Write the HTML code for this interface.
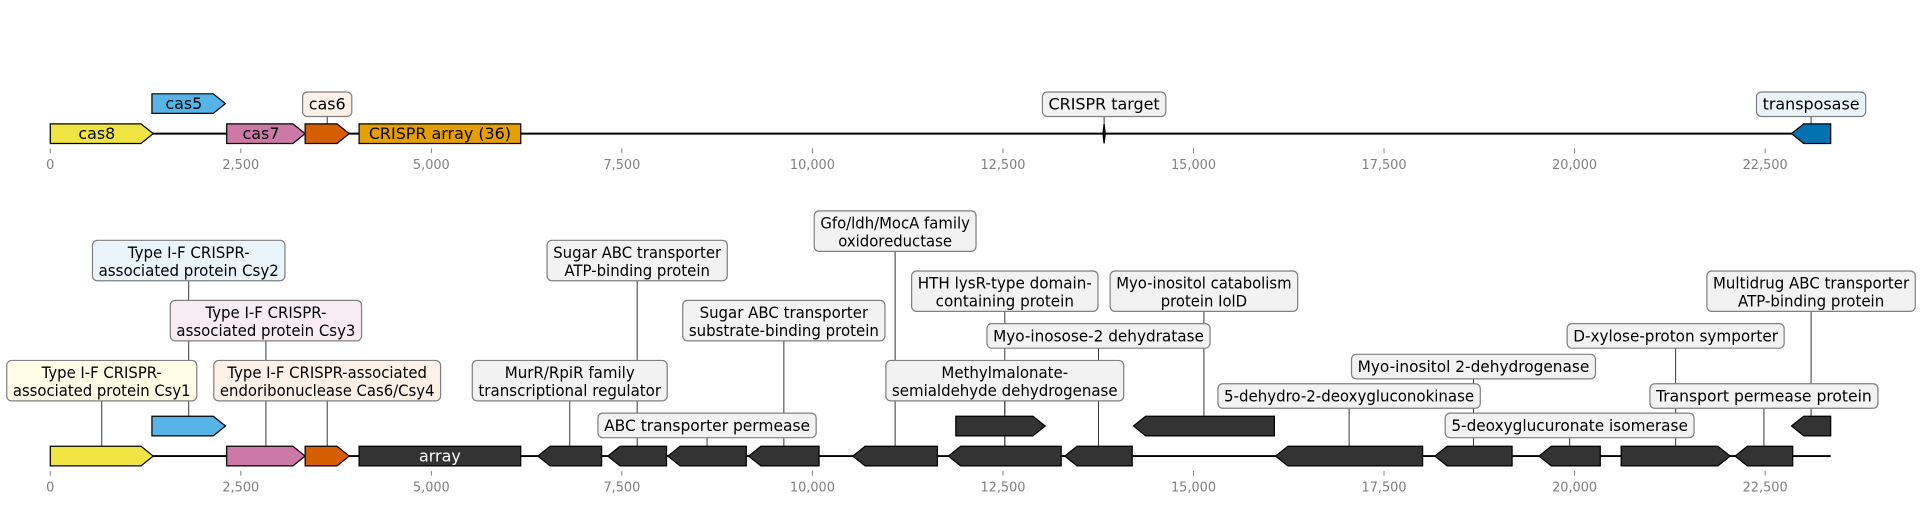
<!DOCTYPE html>
<html><head><meta charset="utf-8"><style>
html,body{margin:0;padding:0;background:#fff}
svg{display:block}
text{font-family:"DejaVu Sans","Liberation Sans",sans-serif}
</style></head><body>
<svg id="chart" xmlns="http://www.w3.org/2000/svg" width="1923" height="505" viewBox="0 0 1568.6 411.9"></svg>
<script>
const NS='http://www.w3.org/2000/svg';
// ---- data ----
const ticks=[0,2500,5000,7500,10000,12500,15000,17500,20000,22500];
const tickLabels=['0','2,500','5,000','7,500','10,000','12,500','15,000','17,500','20,000','22,500'];
const contigEnd=23360;
const topStarts=[0,1334,2315,3344,4052,13812,22846];
const topEnds=[1351,2299,3344,3923,6173,13842,23360];
const topStrands=[1,1,1,1,0,2,-1];
const topRows=[0,1,0,0,0,0,0];
const topColors=['#F0E442','#56B4E9','#CC79A7','#D55E00','#E69F00','#222222','#0072B2'];
const topInside=['cas8','cas5','cas7','','CRISPR array (36)','',''];
const topLabels=[[3,'cas6','#fdf0e6'],[5,'CRISPR target','#f2f2f2'],[6,'transposase','#e8f3fa']];
const botStarts=[0,1334,2315,3344,4052,6398,7315,8103,9163,10530,11784,13311,16077,18167,19533,20611,22106,11881,14212,22846];
const botEnds=[1351,2299,3344,3923,6173,7234,8086,9132,10087,11640,13264,14196,18006,19180,20337,22041,22862,13054,16061,23360];
const botStrands=[1,1,1,1,0,-1,-1,-1,-1,-1,-1,-1,-1,-1,-1,1,-1,1,-1,-1];
const botRows=[0,1,0,0,0,0,0,0,0,0,0,0,0,0,0,0,0,1,1,1];
const botColors=['#F0E442','#56B4E9','#CC79A7','#D55E00'];
const botLabels=[
 [0,294,155,['Type I-F CRISPR-','associated protein Csy1'],'#fffde6'],
 [3,294,185,['Type I-F CRISPR-associated','endoribonuclease Cas6/Csy4'],'#fdf0e6'],
 [2,245,156,['Type I-F CRISPR-','associated protein Csy3'],'#f7ecf2'],
 [1,196,157,['Type I-F CRISPR-','associated protein Csy2'],'#eaf4fb'],
 [5,294,159,['MurR/RpiR family','transcriptional regulator'],'#f2f2f2'],
 [6,196,147,['Sugar ABC transporter','ATP-binding protein'],'#f2f2f2'],
 [8,245,165,['Sugar ABC transporter','substrate-binding protein'],'#f2f2f2'],
 [7,337,178,['ABC transporter permease'],'#f2f2f2'],
 [9,172,132,['Gfo/ldh/MocA family','oxidoreductase'],'#f2f2f2'],
 [10,221,152,['HTH lysR-type domain-','containing protein'],'#f2f2f2'],
 [10,294,194,['Methylmalonate-','semialdehyde dehydrogenase'],'#f2f2f2'],
 [11,264,182,['Myo-inosose-2 dehydratase'],'#f2f2f2'],
 [18,221,153,['Myo-inositol catabolism','protein IolD'],'#f2f2f2'],
 [12,313,214,['5-dehydro-2-deoxygluconokinase'],'#f2f2f2'],
 [13,289,199,['Myo-inositol 2-dehydrogenase'],'#f2f2f2'],
 [15,264,177,['D-xylose-proton symporter'],'#f2f2f2'],
 [14,337,203,['5-deoxyglucuronate isomerase'],'#f2f2f2'],
 [16,313,186,['Transport permease protein'],'#f2f2f2'],
 [19,221,170,['Multidrug ABC transporter','ATP-binding protein'],'#f2f2f2']
];
// ---- scales ----
const X0=41, PXBP=0.06217;
function xs(bp){return X0+bp*PXBP;}
const svg=document.getElementById('chart');
function el(tag,attrs,parent){const e=document.createElementNS(NS,tag);for(const k in attrs)e.setAttribute(k,attrs[k]);(parent||svg).appendChild(e);return e;}
function geneShape(s,e,strand,cy,color,g){
  const x1=xs(s),x2=xs(e),t=cy-8,b=cy+8,h=Math.min(10,(x2-x1));
  let pts;
  if(strand===1)pts=[[x1,t],[x2-h,t],[x2,cy],[x2-h,b],[x1,b]];
  else if(strand===-1)pts=[[x1,cy],[x1+h,t],[x2,t],[x2,b],[x1+h,b]];
  else if(strand===2){const m=(x1+x2)/2;pts=[[m,t],[x2,cy],[m,b],[x1,cy]];}
  else pts=[[x1,t],[x2,t],[x2,b],[x1,b]];
  return el('polygon',{points:pts.map(q=>q.join(',')).join(' '),fill:color,stroke:'#000','stroke-width':1},g);
}
function axis(y,name){
  const g=el('g',{});
  
  
  ticks.forEach((t,i)=>{
    el('line',{x1:xs(t),x2:xs(t),y1:y,y2:y+4,stroke:'#808080','stroke-width':0.8},g);
    const tx=el('text',{x:xs(t),y:y+17,'text-anchor':'middle','font-size':10.5,fill:'#808080'},g);
    tx.textContent=tickLabels[i];
  });
}
function box(cx,top,w,lines,fill,name){
  const g=el('g',{});
  
  
  const h=lines.length===2?33:20;
  const r=el('rect',{x:cx-w/2,y:top,width:w,height:h,rx:4,fill:fill,stroke:'#808080','stroke-width':1},g);
  const ts=lines.map((ln,i)=>{
    const t=el('text',{x:cx,y:top+(lines.length===2?14.5+i*14.5:14.5),'text-anchor':'middle','font-size':13,fill:'#000'},g);
    t.textContent=ln;return t;
  });
  if(w){
    const lens=ts.map(t=>t.getComputedTextLength());
    const f=Math.min(1,(w-10)/Math.max(...lens));
    ts.forEach((t,i)=>{t.setAttribute('textLength',lens[i]*f);t.setAttribute('lengthAdjust','spacingAndGlyphs');});
  } else {
    const L=ts[0].getComputedTextLength();
    r.setAttribute('width',L+10);r.setAttribute('x',cx-(L+10)/2);
  }
  return h;
}
// ---- top track ----
const topY=109;
const tl=el('line',{x1:xs(0),x2:xs(contigEnd),y1:topY,y2:topY,stroke:'#000','stroke-width':1.6});


topLabels.forEach(([gi,txt,fill])=>{
  const cx=(xs(topStarts[gi])+xs(topEnds[gi]))/2;
  el('line',{x1:cx,x2:cx,y1:94,y2:topY-8,stroke:'#333','stroke-width':0.8});
  box(cx,75,0,[txt],fill,'top-label-'+txt.replace(/\s+/g,'-').toLowerCase());
});
topStarts.forEach((s,i)=>{
  const cy=topRows[i]?84.5:topY;
  const p=geneShape(s,topEnds[i],topStrands[i],cy,topColors[i]);
  
  
  if(topInside[i]){
    const t=el('text',{x:(xs(s)+xs(topEnds[i]))/2-(topStrands[i]?4:0),y:cy+4.5,'text-anchor':'middle','font-size':13,fill:'#000'});
    t.textContent=topInside[i];
  }
});
axis(121,'top-x-axis');
// ---- bottom track ----
const botY=372;
const bl=el('line',{x1:xs(0),x2:xs(contigEnd),y1:botY,y2:botY,stroke:'#000','stroke-width':1.6});


botLabels.forEach(([gi,top,w,lines,fill])=>{
  const cx=(xs(botStarts[gi])+xs(botEnds[gi]))/2;
  const h=lines.length===2?33:20;
  const gy=botRows[gi]?347.5-8:botY-8;
  el('line',{x1:cx,x2:cx,y1:top+h,y2:gy,stroke:'#333','stroke-width':0.8});
});
botLabels.forEach(([gi,top,w,lines,fill],k)=>{
  const cx=(xs(botStarts[gi])+xs(botEnds[gi]))/2;
  box(cx,top,w,lines,fill,'bottom-label-'+k);
});
botStarts.forEach((s,i)=>{
  const cy=botRows[i]?347.5:botY;
  const p=geneShape(s,botEnds[i],botStrands[i],cy,botColors[i]||'#333333');
  
  
});
const at=el('text',{x:(xs(botStarts[4])+xs(botEnds[4]))/2,y:botY+4.5,'text-anchor':'middle','font-size':13,fill:'#fff'});
at.textContent='array';
axis(384,'bottom-x-axis');
</script>
</body></html>
